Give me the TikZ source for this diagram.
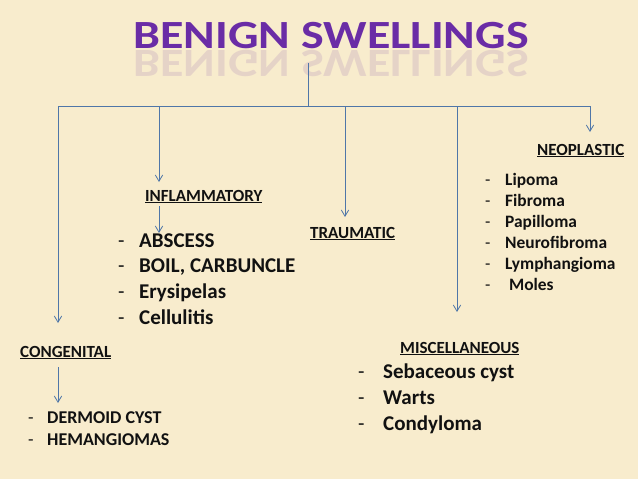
\documentclass[tikz,border=0pt]{standalone}
\usepackage{fontspec}
\setmainfont{Carlito}
\usepackage{tikz}
\usetikzlibrary{arrows.meta,positioning}
\definecolor{parch}{HTML}{F8ECCD}
\definecolor{steel}{HTML}{4F76A8}
\definecolor{violet}{HTML}{6A2CA6}
\definecolor{ink}{HTML}{111111}
\tikzset{
  headline/.style={font=\fontsize{40}{44}\selectfont\bfseries,text=violet,inner sep=0pt,anchor=base,xscale=1.2,transform shape},
  category/.style={font=\fontsize{17}{19}\selectfont\bfseries,text=ink,inner sep=0pt,anchor=base west},
  biglist/.style={font=\fontsize{21}{25.6}\selectfont\bfseries,text=ink,inner sep=0pt,align=left,anchor=base west},
  neolist/.style={font=\fontsize{17.4}{21}\selectfont\bfseries,text=ink,inner sep=0pt,align=left,anchor=base west},
  conglist/.style={font=\fontsize{18}{22}\selectfont\bfseries,text=ink,inner sep=0pt,align=left,anchor=base west},
  link/.style={draw=steel,line width=0.8pt},
  arrow/.style={-{Straight Barb[length=2.2mm,width=2.6mm]},draw=steel,line width=0.8pt}
}
\newcommand{\dashitem}[2][21pt]{\makebox[#1][l]{\mdseries-}#2}
\begin{document}
\begin{tikzpicture}[x=1pt,y=-1pt]
  \fill[parch] (0,0) rectangle (638,479);
  \useasboundingbox (0,0) rectangle (638,479);
  \node[headline] (title) at (331,48) {BENIGN SWELLINGS};
  \node[headline,yscale=-1,opacity=0.13] (mirror) at (331,50) {BENIGN SWELLINGS};
  \coordinate (stem) at (308,63);
  \coordinate (hub) at (308,106);
  \coordinate (left) at (58,106);
  \coordinate (right) at (590,106);
  \coordinate (bInfl) at (159,106);
  \coordinate (bTrau) at (345,106);
  \coordinate (bMisc) at (457,106);
  \coordinate (tCong) at (58,323);
  \coordinate (tInfl) at (159,182);
  \coordinate (tTrau) at (345,217);
  \coordinate (tMisc) at (457,312);
  \coordinate (tNeo) at (590,132);
  \node[category] (infl) at (145,201) {\underline{INFLAMMATORY}};
  \node[category] (trau) at (310,238) {\underline{TRAUMATIC}};
  \node[category] (neo) at (537,155) {\underline{NEOPLASTIC}};
  \node[category] (misc) at (400,353) {\underline{MISCELLANEOUS}};
  \node[category] (cong) at (20,357) {\underline{CONGENITAL}};
  \node[biglist] (inflist) at (118,324) {\dashitem{ABSCESS}\\\dashitem{BOIL, CARBUNCLE}\\\dashitem{Erysipelas}\\\dashitem{Cellulitis}};
  \node[neolist] (neoitems) at (485,290) {\dashitem[20pt]{Lipoma}\\\dashitem[20pt]{Fibroma}\\\dashitem[20pt]{Papilloma}\\\dashitem[20pt]{Neurofibroma}\\\dashitem[20pt]{Lymphangioma}\\\dashitem[20pt]{\ Moles}};
  \node[biglist] (miscitems) at (358,430) {\dashitem[25pt]{Sebaceous cyst}\\\dashitem[25pt]{Warts}\\\dashitem[25pt]{Condyloma}};
  \node[conglist] (congitems) at (28,445) {\dashitem[19pt]{DERMOID CYST}\\\dashitem[19pt]{HEMANGIOMAS}};
  \coordinate (iTop) at (159,206);
  \coordinate (iTip) at (159,233);
  \coordinate (cTop) at (58,367);
  \coordinate (cTip) at (58,403);
  \draw[link] (stem) -- (hub);
  \draw[link] (left) -- (right);
  \draw[arrow] (left) -- (tCong);
  \draw[arrow] (bInfl) -- (tInfl);
  \draw[arrow] (bTrau) -- (tTrau);
  \draw[arrow] (bMisc) -- (tMisc);
  \draw[arrow] (right) -- (tNeo);
  \draw[arrow] (iTop) -- (iTip);
  \draw[arrow] (cTop) -- (cTip);
\end{tikzpicture}
\end{document}
